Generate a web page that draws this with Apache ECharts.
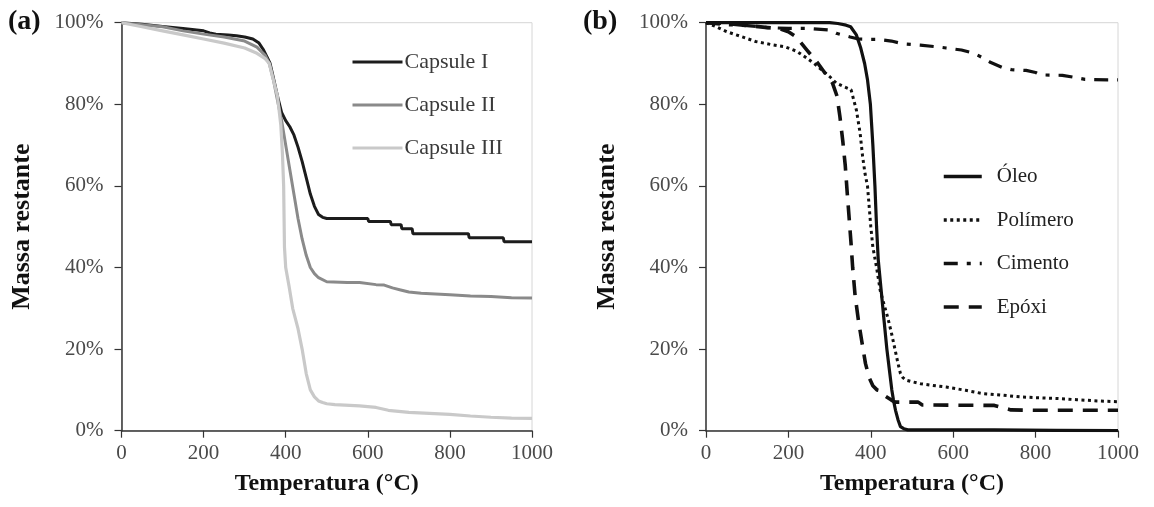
<!DOCTYPE html>
<html>
<head>
<meta charset="utf-8">
<script src="https://cdn.jsdelivr.net/npm/echarts@6/dist/echarts.min.js"></script>
<style>
html,body{margin:0;padding:0;background:#fff;}
#chart{width:1154px;height:507px;}
</style>
</head>
<body>
<div id="chart"></div>
<script>
// ---------- Data ----------
var xTicks = [0, 200, 400, 600, 800, 1000];
var yTicks = [0, 20, 40, 60, 80, 100];

// Panel (a)
var capITemp = [0, 50, 100, 150, 200, 215, 230, 260, 280, 300, 320, 335, 345, 355, 362, 370, 380, 390, 400, 410, 420, 430, 440, 450, 460, 470, 480, 490, 500, 600, 602, 655, 657, 681, 683, 708, 710, 845, 847, 930, 932, 1000];
var capIMass = [100, 99.6, 99.1, 98.6, 98, 97.5, 97.2, 97, 96.8, 96.5, 96, 95, 93.5, 91.5, 90, 86.5, 82, 78, 76, 74.5, 72.5, 69.5, 66, 62, 58, 55, 53, 52.3, 52, 52, 51.3, 51.3, 50.5, 50.5, 49.5, 49.5, 48.3, 48.3, 47.3, 47.3, 46.3, 46.3];

var capIITemp = [0, 50, 100, 150, 200, 250, 300, 330, 350, 360, 370, 380, 390, 400, 410, 420, 430, 440, 450, 460, 470, 480, 500, 550, 580, 620, 640, 660, 680, 700, 730, 800, 850, 900, 950, 1000];
var capIIMass = [100, 99.5, 99, 98, 97.2, 96.5, 95.5, 94, 92, 90, 86, 81, 76, 70, 64, 58, 52, 47, 43, 40, 38.5, 37.5, 36.5, 36.3, 36.3, 35.8, 35.7, 35, 34.5, 34, 33.7, 33.3, 33, 32.9, 32.6, 32.5];

var capIIITemp = [0, 50, 100, 150, 200, 250, 300, 330, 350, 360, 370, 380, 388, 392, 395, 397, 400, 408, 417, 430, 440, 450, 460, 470, 480, 490, 500, 520, 580, 620, 650, 700, 800, 850, 900, 950, 1000];
var capIIIMass = [100, 99, 98, 97, 96, 95, 93.8, 92.5, 91.2, 90, 86, 82, 75, 68, 60, 45, 40, 35.5, 30, 25, 20, 14, 10, 8.3, 7.3, 6.9, 6.6, 6.4, 6.1, 5.7, 5, 4.5, 4, 3.6, 3.3, 3.1, 3];

// Panel (b)
var oleoTemp = [0, 100, 200, 300, 320, 340, 351, 365, 375, 385, 392, 399, 405, 410, 414, 418, 425, 432, 439, 445, 451, 455, 460, 466, 472, 480, 490, 550, 700, 850, 1000];
var oleoMass = [100, 100, 100, 100, 99.8, 99.4, 99, 97, 94, 90, 86, 80, 70, 60, 50, 42, 34.6, 27.2, 20, 15, 10, 7.5, 5, 2.7, 1, 0.5, 0.2, 0.2, 0.2, 0.1, 0];

var polTemp = [0, 25, 50, 80, 120, 160, 191, 220, 245, 265, 280, 300, 316, 335, 352, 365, 374, 380, 386, 392, 396, 400, 405, 414, 423, 432, 441, 450, 459, 466, 472, 478, 485, 500, 521, 550, 583, 630, 672, 720, 761, 800, 850, 900, 950, 1000];
var polMass = [100, 99, 97.8, 96.8, 95.4, 94.6, 94.1, 93, 91.3, 89.8, 88.5, 86.8, 85.2, 84.3, 83.6, 78.6, 73, 67.3, 63, 60, 55, 50, 45, 40, 34.3, 31, 27.8, 24, 19.8, 16.5, 14, 13, 12.4, 12, 11.5, 11.1, 10.7, 9.9, 9.1, 8.7, 8.3, 8.1, 7.9, 7.6, 7.3, 7.1];

var cimTemp = [0, 50, 100, 150, 200, 250, 300, 316, 350, 370, 400, 420, 450, 480, 520, 560, 583, 620, 650, 670, 690, 720, 741, 777, 800, 812, 865, 900, 920, 975, 1000];
var cimMass = [100, 99.5, 99.3, 98.8, 98.6, 98.6, 98.2, 97.4, 96.5, 96, 95.9, 95.9, 95.5, 94.8, 94.5, 94.1, 93.8, 93.3, 92.5, 91.5, 90.3, 89, 88.5, 88.3, 87.8, 87.2, 87.1, 86.5, 86.1, 86, 86];

var epoTemp = [0, 50, 100, 150, 180, 200, 218, 245, 272, 290, 307, 318, 325, 332, 338, 343, 347, 352, 356, 362, 370, 378, 387, 396, 405, 415, 423, 435, 450, 459, 515, 525, 700, 740, 800, 900, 1000];
var epoMass = [100, 99.8, 99.3, 98.8, 98.5, 97.8, 96.6, 93.3, 90, 87.5, 85.2, 82, 77, 71, 65, 58, 52.7, 46, 40, 33, 27, 22, 16.5, 13, 11, 10, 9.8, 8.5, 7.5, 7, 7, 6.3, 6.2, 5.1, 5, 5, 5];

// ---------- Build ----------
function zip(t, m) { return t.map(function (v, i) { return [v, m[i]]; }); }

var serif = '"Liberation Serif", "DejaVu Serif", serif';
var labelColor = '#4a4a4a';
var axisColor = '#333';

function makeX(gridIndex) {
  return {
    type: 'value', gridIndex: gridIndex, min: xTicks[0], max: xTicks[xTicks.length - 1], interval: xTicks[1] - xTicks[0],
    name: 'Temperatura (°C)', nameLocation: 'middle', nameGap: 41,
    nameTextStyle: { fontFamily: serif, fontWeight: 'bold', fontSize: 24, color: '#111' },
    axisLine: { show: true, onZero: false, lineStyle: { color: axisColor, width: 1.5 } },
    axisTick: { show: true, inside: false, length: 7, lineStyle: { color: axisColor, width: 1.2 } },
    axisLabel: { margin: 12, fontFamily: serif, fontSize: 21, color: labelColor, formatter: function (v) { return String(v); } },
    splitLine: { show: false }
  };
}
function makeY(gridIndex) {
  return {
    type: 'value', gridIndex: gridIndex, min: yTicks[0], max: yTicks[yTicks.length - 1], interval: yTicks[1] - yTicks[0],
    name: 'Massa restante', nameLocation: 'middle', nameGap: 86,
    nameTextStyle: { fontFamily: serif, fontWeight: 'bold', fontSize: 26, color: '#111' },
    axisLine: { show: true, onZero: false, lineStyle: { color: axisColor, width: 1.5 } },
    axisTick: { show: true, inside: false, length: 7, lineStyle: { color: axisColor, width: 1.2 } },
    axisLabel: { margin: 18, fontFamily: serif, fontSize: 21, color: labelColor, formatter: function (v) { return v + '%'; } },
    splitLine: { show: false }
  };
}

function lineSeries(name, idx, t, m, color, width, type) {
  return {
    name: name, type: 'line', xAxisIndex: idx, yAxisIndex: idx,
    data: zip(t, m), showSymbol: false, symbol: 'none', smooth: false,
    lineStyle: { color: color, width: width, type: type || 'solid', cap: 'butt' },
    itemStyle: { color: color },
    emphasis: { disabled: true }, animation: false
  };
}

var chart = echarts.init(document.getElementById('chart'), null, { renderer: 'canvas' });
chart.setOption({
  backgroundColor: '#fff',
  animation: false,
  grid: [
    { left: 121.5, right: 622, top: 22.7, bottom: 76.3, show: true, borderColor: '#d6d6d6', borderWidth: 1, backgroundColor: 'transparent' },
    { left: 706, right: 36, top: 22.7, bottom: 76.3, show: true, borderColor: '#d6d6d6', borderWidth: 1, backgroundColor: 'transparent' }
  ],
  xAxis: [makeX(0), makeX(1)],
  yAxis: [makeY(0), makeY(1)],
  legend: [
    {
      data: ['Capsule I', 'Capsule II', 'Capsule III'], orient: 'vertical',
      left: 346, top: 46, itemWidth: 50, itemHeight: 14, itemGap: 21,
      itemStyle: { opacity: 0 },
      lineStyle: { width: 3 },
      textStyle: { fontFamily: serif, fontSize: 22, color: '#3a3a3a', padding: [0, 0, 0, -3] },
      selectedMode: false
    },
    {
      data: ['Óleo', 'Polímero', 'Cimento', 'Epóxi'], orient: 'vertical',
      left: 937, top: 161, itemWidth: 38, itemHeight: 14, itemGap: 22.5,
      itemStyle: { opacity: 0 },
      lineStyle: { width: 3.5 },
      textStyle: { fontFamily: serif, fontSize: 21, color: '#222', padding: [0, 0, 0, 10] },
      selectedMode: false
    }
  ],
  graphic: [
    { type: 'text', left: 8, top: 8, style: { text: '(a)', font: 'bold 28px ' + serif, fill: '#111' } },
    { type: 'text', left: 583, top: 8, style: { text: '(b)', font: 'bold 28px ' + serif, fill: '#111' } }
  ],
  series: [
    lineSeries('Capsule I', 0, capITemp, capIMass, '#1c1c1c', 3),
    lineSeries('Capsule II', 0, capIITemp, capIIMass, '#8a8a8a', 3),
    lineSeries('Capsule III', 0, capIIITemp, capIIIMass, '#c9c9c9', 3.2),
    lineSeries('Óleo', 1, oleoTemp, oleoMass, '#111', 3.2),
    lineSeries('Polímero', 1, polTemp, polMass, '#111', 3, [3, 3.5]),
    lineSeries('Cimento', 1, cimTemp, cimMass, '#111', 3.2, [14, 9, 4, 9]),
    lineSeries('Epóxi', 1, epoTemp, epoMass, '#111', 3.6, [15, 10])
  ]
});
</script>
</body>
</html>
